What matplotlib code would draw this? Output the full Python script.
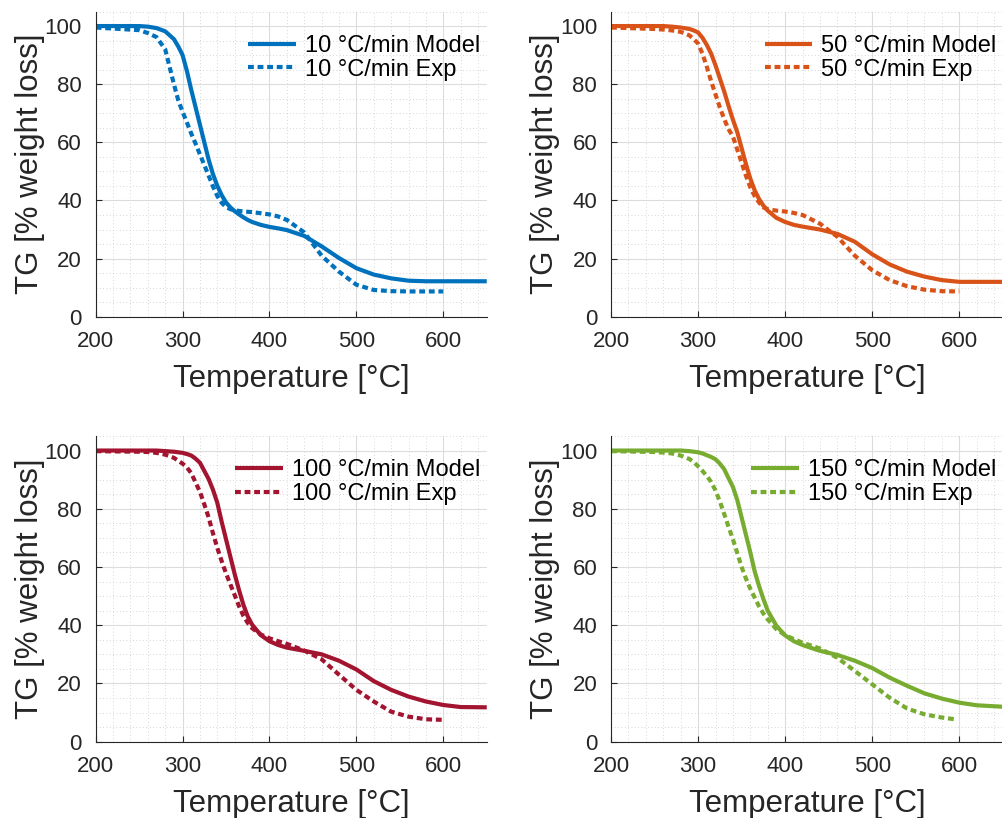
import numpy as np
import matplotlib.pyplot as plt
from matplotlib.ticker import MultipleLocator

plt.rcParams['font.family'] = ['Liberation Sans', 'DejaVu Sans']

# heating rates and colours
rates = ['10', '50', '100', '150']
colors = ['#0072BD', '#D95319', '#A2142F', '#77AC30']

# model curves: temperature [C] and TG [%]
T_model = [200, 250, 260, 270, 280, 290, 295, 300, 305, 310, 315, 320, 325, 330, 335, 340, 345,
           350, 355, 360, 365, 370, 375, 380, 390, 400, 410, 420, 440, 460, 480, 500, 520, 540,
           560, 580, 600, 620, 650]
tg_model_10 = [100, 100, 99.8, 99.3, 98.2, 95.5, 93, 90, 84.5, 78, 72, 66, 60, 54, 49, 45, 41.8,
               39.3, 37.6, 36.3, 35.2, 34.2, 33.3, 32.6, 31.6, 30.9, 30.4, 29.8, 27.8, 24.2, 20.2, 16.7, 14.5, 13.2,
               12.4, 12.2, 12.2, 12.2, 12.2]
tg_model_50 = [100, 100, 100, 99.8, 99.5, 99, 98.5, 97.8, 96, 93.5, 90.5, 86.5, 82, 77.5, 72.5, 67.8, 63.5,
               58, 52.5, 47.5, 43.5, 40.5, 38.2, 36.5, 34, 32.6, 31.6, 31, 30, 28.5, 25.8, 21.5, 18, 15.5,
               13.8, 12.6, 12, 12, 12]
tg_model_100 = [100, 100, 100, 100, 99.8, 99.6, 99.4, 99.2, 98.8, 98.3, 97.2, 95.8, 93, 90.2, 86.5, 82, 75.5,
                69.5, 63.5, 57.5, 52, 47, 43, 40.2, 36.6, 34.5, 33.2, 32.3, 31.2, 30, 27.8, 24.8, 20.8, 17.8,
                15.5, 13.8, 12.6, 11.9, 11.8]
tg_model_150 = [100, 100, 100, 100, 100, 99.8, 99.6, 99.4, 99, 98.4, 97.8, 97, 95.5, 93.6, 90.5, 87.5, 83,
                77, 71, 65, 58.5, 53.5, 49, 45, 39.8, 36.5, 34.5, 33.2, 31.2, 29.8, 27.8, 25.3, 22, 19.2,
                16.6, 14.8, 13.4, 12.5, 12]

# experimental curves
T_exp = [200, 250, 260, 270, 280, 290, 295, 300, 305, 310, 315, 320, 325, 330, 335, 340, 345,
         350, 355, 360, 365, 370, 375, 380, 390, 400, 410, 420, 440, 460, 480, 500, 520, 540,
         560, 580, 600]
T_exp_150 = T_exp[:-1] + [595]
tg_exp_10 = [99.5, 98.6, 97.6, 96.2, 92, 80, 74.5, 70.5, 66.8, 63, 59.5, 55.8, 52.2, 48.5, 44.8, 41.5, 39.2,
             37.7, 37, 36.6, 36.4, 36.2, 36.1, 36, 35.6, 35.2, 34.5, 33.3, 29, 21, 15.5, 11, 9.2, 8.8,
             8.7, 8.7, 8.7]
tg_exp_50 = [99.5, 99, 98.8, 98.5, 98, 96.8, 95.5, 94, 90.5, 86, 81, 76.5, 72, 68, 64.5, 62, 57.5,
             53, 48.5, 44.5, 41.5, 39.3, 37.6, 37, 36.5, 36.2, 35.7, 35, 32, 27.5, 21, 16, 12.6, 10.5,
             9.3, 8.8, 8.7]
tg_exp_100 = [99.8, 99.6, 99.5, 99.2, 98.6, 97.5, 96.5, 95.5, 94.2, 92.2, 89, 85.8, 81.5, 77, 71.5, 66.5, 62,
              57.8, 54, 50.3, 46.5, 43.2, 40.8, 39, 36.8, 35.5, 34.5, 33.6, 31.3, 28.3, 23, 17.8, 13.8, 10.3,
              8.6, 7.7, 7.5]
tg_exp_150 = [99.8, 99.5, 99.3, 99, 98.3, 97.1, 96, 94.6, 93, 91.3, 89.2, 86.3, 82.5, 78.2, 73.8, 69.5, 64.8,
              60, 56, 52.5, 49.5, 46.5, 44, 42, 38.6, 36.6, 35.2, 34, 32, 28.8, 24.3, 19.7, 15.1, 11.4,
              9.4, 8.3, 7.7]

models = [tg_model_10, tg_model_50, tg_model_100, tg_model_150]
exps = [tg_exp_10, tg_exp_50, tg_exp_100, tg_exp_150]
exp_temps = [T_exp, T_exp, T_exp, T_exp_150]

fig = plt.figure(figsize=(10.03, 8.18), dpi=100)
positions = [[0.0954, 0.6128, 0.3899, 0.3731],
             [0.6092, 0.6128, 0.3906, 0.3731],
             [0.0954, 0.0933, 0.3899, 0.3737],
             [0.6092, 0.0933, 0.3906, 0.3737]]

for i in range(4):
    ax = fig.add_axes(positions[i])
    ax.plot(T_model, models[i], color=colors[i], lw=3.0, solid_capstyle='butt',
            label=rates[i] + ' °C/min Model')
    ax.plot(exp_temps[i], exps[i], color=colors[i], lw=3.0, linestyle=(0, (1.4, 0.9)),
            label=rates[i] + ' °C/min Exp')
    ax.set_xlim(200, 650)
    ax.set_ylim(0, 105)
    ax.set_xticks([200, 300, 400, 500, 600])
    ax.set_yticks([0, 20, 40, 60, 80, 100])
    ax.xaxis.set_minor_locator(MultipleLocator(20))
    ax.yaxis.set_minor_locator(MultipleLocator(5))
    ax.grid(True, which='major', color='#dcdcdc', lw=0.8)
    ax.grid(True, which='minor', color='#c8c8c8', lw=0.6, linestyle=(0, (1, 3)))
    ax.set_axisbelow(True)
    ax.tick_params(which='major', direction='in', length=4, width=0.8,
                   labelsize=16, colors='#262626', pad=10)
    ax.tick_params(which='minor', length=0)
    for s in ['top', 'right']:
        ax.spines[s].set_visible(False)
    for s in ['left', 'bottom']:
        ax.spines[s].set_color('#262626')
        ax.spines[s].set_linewidth(0.8)
    ax.set_xlabel('Temperature [°C]', fontsize=22.5, color='#262626', labelpad=9)
    ax.set_ylabel('TG [% weight loss]', fontsize=22.5, color='#262626', labelpad=0)
    ax.legend(loc='upper right', frameon=False, fontsize=17, handlelength=2.0,
              handletextpad=0.4, labelspacing=0.08, borderaxespad=0.2,
              bbox_to_anchor=(1.02, 0.97))

plt.savefig('out.png', dpi=100)
